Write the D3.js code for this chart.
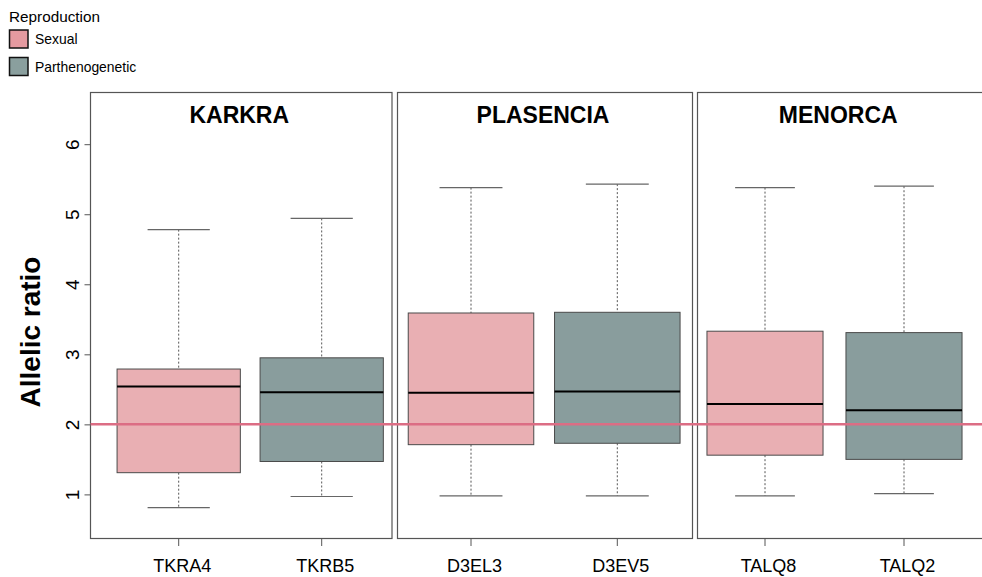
<!DOCTYPE html>
<html>
<head>
<meta charset="utf-8">
<script src="https://cdn.jsdelivr.net/npm/d3@7"></script>
<style>
  html, body { margin: 0; padding: 0; background: #fff; }
  svg { display: block; font-family: "Liberation Sans", Arial, Helvetica, sans-serif; }
</style>
</head>
<body>
<svg id="chart" width="982" height="577"></svg>
<script>
// ---- data ----
const populations = ["KARKRA", "PLASENCIA", "MENORCA"];
const markers = ["TKRA4", "TKRB5", "D3EL3", "D3EV5", "TALQ8", "TALQ2"];
const markerPopulation = [0, 0, 1, 1, 2, 2];
const markerSlot = [1, 2, 1, 2, 1, 2];
const reproduction = ["Sexual", "Parthenogenetic", "Sexual", "Parthenogenetic", "Sexual", "Parthenogenetic"];
const whiskerLow  = [0.81, 0.97, 0.98, 0.98, 0.98, 1.01];
const quartile1   = [1.31, 1.47, 1.71, 1.73, 1.56, 1.50];
const medians     = [2.54, 2.46, 2.45, 2.47, 2.29, 2.20];
const quartile3   = [2.79, 2.95, 3.59, 3.60, 3.33, 3.31];
const whiskerHigh = [4.78, 4.94, 5.38, 5.43, 5.38, 5.40];
const yTicks = [1, 2, 3, 4, 5, 6];
const referenceRatio = 2;
const reproductionTypes = ["Sexual", "Parthenogenetic"];

// ---- layout ----
const svg = d3.select("#chart");
const frameTop = 92, frameBottom = 538;
const panelEdges = [[90.5, 392], [397.5, 692.5], [697.5, 983]];
const slotCenters = [[178.7, 321.7], [471, 617.3], [765, 904]];
const boxFrac = [0.862, 0.858, 0.835];
const capFrac = [0.435, 0.43, 0.43];

const boxFill = { "Sexual": "#e9afb3", "Parthenogenetic": "#899d9d" };
const legendFill = { "Sexual": "#e59aa0", "Parthenogenetic": "#8a9f9e" };

const y = d3.scaleLinear().domain([1, 6]).range([494.4, 144.2]);

// per-panel x scales mapping slot 1..2 to pixel centres
const xScales = slotCenters.map(c => d3.scaleLinear().domain([1, 2]).range(c));

// panel frames and titles
populations.forEach((name, p) => {
  const [l, r] = panelEdges[p];
  svg.append("rect")
    .attr("x", l).attr("y", frameTop + 0.5)
    .attr("width", r - l).attr("height", frameBottom - frameTop)
    .attr("fill", "none").attr("stroke", "#555").attr("stroke-width", 1.2);
  svg.append("text")
    .attr("x", (l + r) / 2 - 2).attr("y", 123)
    .attr("text-anchor", "middle")
    .attr("font-size", 23).attr("font-weight", "bold")
    .attr("fill", "#000")
    .text(name);
});

// boxes
markers.forEach((m, i) => {
  const p = markerPopulation[i];
  const x = xScales[p];
  const unit = x(2) - x(1);
  const cx = x(markerSlot[i]);
  const bw = unit * boxFrac[p], cw = unit * capFrac[p];
  const g = svg.append("g");
  // whiskers
  g.append("line")
    .attr("x1", cx).attr("x2", cx)
    .attr("y1", y(whiskerHigh[i])).attr("y2", y(quartile3[i]))
    .attr("stroke", "#555").attr("stroke-width", 1).attr("stroke-dasharray", "2,2");
  g.append("line")
    .attr("x1", cx).attr("x2", cx)
    .attr("y1", y(quartile1[i])).attr("y2", y(whiskerLow[i]))
    .attr("stroke", "#555").attr("stroke-width", 1).attr("stroke-dasharray", "2,2");
  // caps
  [whiskerHigh[i], whiskerLow[i]].forEach(v => {
    g.append("line")
      .attr("x1", cx - cw / 2).attr("x2", cx + cw / 2)
      .attr("y1", y(v)).attr("y2", y(v))
      .attr("stroke", "#666").attr("stroke-width", 1.2);
  });
  // box
  g.append("rect")
    .attr("x", cx - bw / 2).attr("y", y(quartile3[i]))
    .attr("width", bw).attr("height", y(quartile1[i]) - y(quartile3[i]))
    .attr("fill", boxFill[reproduction[i]])
    .attr("stroke", "#4a4a4a").attr("stroke-width", 1);
  // median
  g.append("line")
    .attr("x1", cx - bw / 2).attr("x2", cx + bw / 2)
    .attr("y1", y(medians[i])).attr("y2", y(medians[i]))
    .attr("stroke", "#000").attr("stroke-width", 2);
  // x tick and label
  g.append("line")
    .attr("x1", cx).attr("x2", cx)
    .attr("y1", frameBottom + 0.5).attr("y2", frameBottom + 8)
    .attr("stroke", "#555").attr("stroke-width", 1);
  g.append("text")
    .attr("x", cx + 3.5).attr("y", 572)
    .attr("text-anchor", "middle")
    .attr("font-size", 18).attr("fill", "#000")
    .text(m);
});

// reference line at ratio 2
svg.append("line")
  .attr("x1", panelEdges[0][0]).attr("x2", 982)
  .attr("y1", y(referenceRatio)).attr("y2", y(referenceRatio))
  .attr("stroke", "#dc6d84").attr("stroke-width", 2.5);

// y axis (left side of first panel)
const yAxis = d3.axisLeft(y).tickValues(yTicks).tickSize(6).tickPadding(4).tickFormat(d3.format("d"));
const ya = svg.append("g")
  .attr("transform", `translate(${panelEdges[0][0]},0)`)
  .call(yAxis);
ya.select(".domain").remove();
ya.selectAll(".tick line").attr("stroke", "#555");
ya.selectAll(".tick text")
  .attr("font-size", 19).attr("fill", "#000")
  .attr("font-family", "Liberation Sans, Arial, sans-serif")
  .attr("text-anchor", "middle")
  .attr("dy", 0)
  .attr("x", 0)
  .attr("transform", "translate(-18,0) rotate(-90)")
  .attr("dominant-baseline", "central");

// axis title
svg.append("text")
  .attr("transform", "translate(40,332) rotate(-90)")
  .attr("text-anchor", "middle")
  .attr("font-size", 28).attr("font-weight", "bold")
  .attr("fill", "#000")
  .text("Allelic ratio");

// legend
svg.append("text")
  .attr("x", 9).attr("y", 22)
  .attr("font-size", 15.3).attr("fill", "#000")
  .text("Reproduction");
reproductionTypes.forEach((t, k) => {
  const yy = 30 + k * 27.5;
  svg.append("rect")
    .attr("x", 9.5).attr("y", yy)
    .attr("width", 18.5).attr("height", 18)
    .attr("fill", legendFill[t])
    .attr("stroke", "#111").attr("stroke-width", 1.5);
  svg.append("text")
    .attr("x", 35).attr("y", yy + 9)
    .attr("dominant-baseline", "central")
    .attr("font-size", 13.9).attr("fill", "#000")
    .text(t);
});
</script>
</body>
</html>
